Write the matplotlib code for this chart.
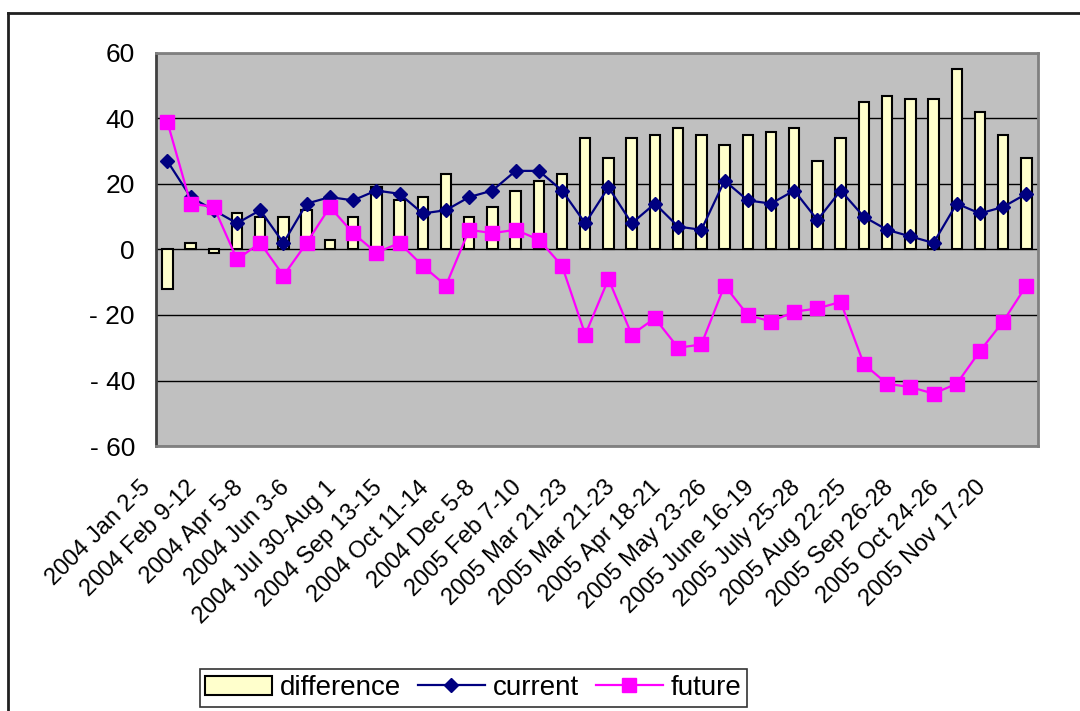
import matplotlib.pyplot as plt
import matplotlib.transforms as mtransforms
from matplotlib.lines import Line2D
import numpy as np

plt.rcParams['font.family'] = ['Liberation Sans', 'DejaVu Sans']

# 38 survey periods, only every other one is labelled on the axis
n_points = 38
tick_labels = [
    '2004 Jan 2-5', '2004 Feb 9-12', '2004 Apr 5-8', '2004 Jun 3-6',
    '2004 Jul 30-Aug 1', '2004 Sep 13-15', '2004 Oct 11-14', '2004 Dec 5-8',
    '2005 Feb 7-10', '2005 Mar 21-23', '2005 Mar 21-23', '2005 Apr 18-21',
    '2005 May 23-26', '2005 June 16-19', '2005 July 25-28', '2005 Aug 22-25',
    '2005 Sep 26-28', '2005 Oct 24-26', '2005 Nov 17-20',
]

current = [27, 16, 12, 8, 12, 2, 14, 16, 15, 18, 17, 11, 12, 16,
           18, 24, 24, 18, 8, 19, 8, 14, 7, 6, 21, 15, 14,
           18, 9, 18, 10, 6, 4, 2, 14, 11, 13, 17]
future = [39, 14, 13, -3, 2, -8, 2, 13, 5, -1, 2, -5, -11, 6,
          5, 6, 3, -5, -26, -9, -26, -21, -30, -29, -11, -20, -22,
          -19, -18, -16, -35, -41, -42, -44, -41, -31, -22, -11]
difference = [-12, 2, -1, 11, 10, 10, 12, 3, 10, 19, 15, 16, 23, 10,
              13, 18, 21, 23, 34, 28, 34, 35, 37, 35, 32, 35, 36,
              37, 27, 34, 45, 47, 46, 46, 55, 42, 35, 28]

x = np.arange(n_points)

fig = plt.figure(figsize=(10.8, 7.11), dpi=100)
ax = fig.add_axes([0.1442, 0.3727, 0.8169, 0.5528])
ax.set_facecolor('#C0C0C0')

bars = ax.bar(x, difference, width=0.45, color='#FFFFCC', edgecolor='black',
              linewidth=1.5, label='difference', zorder=2)
cur_line, = ax.plot(x, current, color='#000080', marker='D', markersize=7.5,
                    linewidth=1.6, label='current', zorder=3)
fut_line, = ax.plot(x, future, color='#FF00FF', marker='s', markersize=10,
                    linewidth=1.6, label='future', zorder=4)

ax.set_xlim(-0.5, n_points - 0.5)
ax.set_ylim(-60, 60)
ax.set_yticks(range(-60, 61, 20))
ax.set_yticklabels([str(v).replace('-', '- ') for v in range(-60, 61, 20)])
ax.yaxis.grid(True, color='black', linewidth=1)
ax.set_axisbelow(True)
ax.tick_params(axis='y', labelsize=19, length=0, pad=15)

ax.set_xticks(x[::2])
ax.set_xticklabels(tick_labels, rotation=45, ha='right', va='top',
                   rotation_mode='anchor', fontsize=17)
ax.tick_params(axis='x', length=0, pad=22)
offset = mtransforms.ScaledTranslation(-0.28, 0, fig.dpi_scale_trans)
for lbl in ax.get_xticklabels():
    lbl.set_transform(lbl.get_transform() + offset)

for side in ['top', 'right', 'bottom']:
    ax.spines[side].set_color('#808080')
    ax.spines[side].set_linewidth(2)
ax.spines['left'].set_color('#404040')
ax.spines['left'].set_linewidth(2)

leg = fig.legend([bars, cur_line, fut_line], ['difference', 'current', 'future'],
                 loc='center', bbox_to_anchor=(0.4384, 0.0323), ncol=3,
                 fontsize=20, frameon=True, fancybox=False, shadow=False,
                 handlelength=2.4, handletextpad=0.3, columnspacing=0.6,
                 borderpad=0.2)
leg.get_frame().set_edgecolor('black')
leg.get_frame().set_linewidth(1.2)

# outer chart frame (left and top edges visible)
fig.add_artist(Line2D([0.0074, 0.0074], [0.0, 0.9817], color='#202020',
                      linewidth=2, transform=fig.transFigure))
fig.add_artist(Line2D([0.0074, 1.0], [0.9817, 0.9817], color='#202020',
                      linewidth=2, transform=fig.transFigure))

fig.savefig('out.png', dpi=100)
